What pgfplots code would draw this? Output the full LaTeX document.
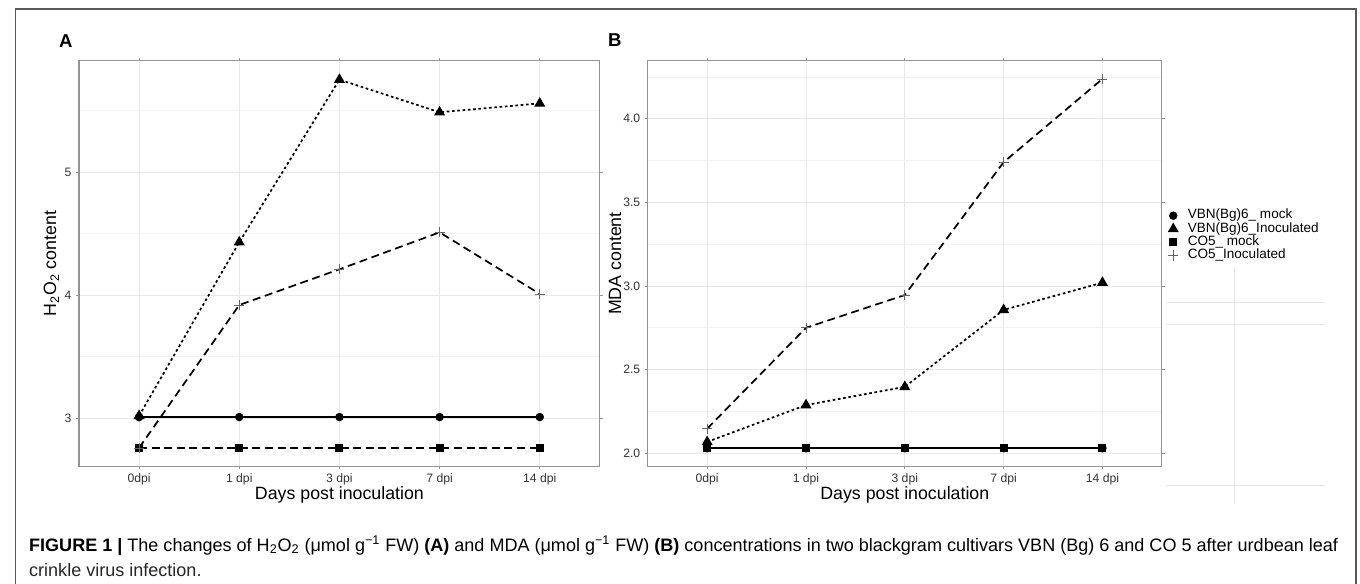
\documentclass[border=0pt]{standalone}
\usepackage{fontspec}
\setmainfont{Liberation Sans}
\usepackage{pgfplots}
\pgfplotsset{compat=1.18}

\definecolor{gridmaj}{gray}{0.91}
\definecolor{gridmin}{gray}{0.95}
\definecolor{panelborder}{gray}{0.58}
\definecolor{outerframe}{gray}{0.35}

\pgfplotstableread{
x vbnmock vbninoc cofmock cofinoc
0 3.01 3.02  2.76 2.76
1 3.01 4.43  2.76 3.92
2 3.01 5.75  2.76 4.21
3 3.01 5.485 2.76 4.51
4 3.01 5.557 2.76 4.01
}\tableA

\pgfplotstableread{
x vbnmock vbninoc cofmock cofinoc
0 2.03 2.068 2.03 2.147
1 2.03 2.288 2.03 2.75
2 2.03 2.397 2.03 2.946
3 2.03 2.857 2.03 3.74
4 2.03 3.02  2.03 4.238
}\tableB

\pgfplotsset{
  panel/.style={
    scale only axis, height=306pt, anchor=south west,
    xmin=-0.6, xmax=4.6,
    xtick={0,1,2,3,4}, xticklabels={0dpi,1 dpi,3 dpi,7 dpi,14 dpi},
    axis line style={panelborder, line width=0.8pt},
    tick align=outside, major tick length=2.2pt, minor tick length=0pt,
    tick style={panelborder, line width=0.6pt},
    every tick label/.append style={font=\fontsize{9.2}{10}\selectfont, text=black!80},
    /pgf/number format/assume math mode=true,
    xmajorgrids, ymajorgrids, yminorgrids,
    major grid style={gridmaj, line width=0.7pt},
    minor grid style={gridmin, line width=0.45pt},
    label style={font=\fontsize{13.4}{15}\selectfont},
    xlabel={Days post inoculation},
    xlabel style={at={(axis description cs:0.5,-0.071)}, anchor=center},
  },
  s1/.style={black, line width=1.3pt, solid, mark=*, mark size=2.5pt},
  s2/.style={black, line width=1.3pt, dash pattern=on 2pt off 2pt, mark=triangle*, mark size=3.5pt, mark options={solid}},
  s3/.style={black, line width=1.3pt, dash pattern=on 6pt off 3.5pt, mark=square*, mark size=2.4pt, mark options={solid}},
  s4/.style={black, line width=1.3pt, dash pattern=on 6pt off 3.5pt, mark=+, mark size=3.8pt, mark options={solid, draw=black!60, line width=0.55pt}},
}

\newsavebox\capA
\newcommand\capfont{\fontsize{10.5}{12}\selectfont}

\begin{document}
\sbox\capA{\capfont\textbf{FIGURE 1 |} The changes of H\textsubscript{2}O\textsubscript{2} (μmol g\textsuperscript{−1} FW) \textbf{(A)} and MDA (μmol g\textsuperscript{−1} FW) \textbf{(B)} concentrations in two blackgram cultivars VBN (Bg) 6 and CO 5 after urdbean leaf}
\pgfmathsetmacro\capscale{987/\the\wd\capA}
\begin{tikzpicture}
\useasboundingbox (0,0) rectangle (1020pt,440.25pt);
\draw[outerframe, line width=1.1pt] (6pt,0) -- (6pt,433.5pt) -- (1017pt,433.5pt) -- (1017pt,0);

% Panel A
\begin{axis}[panel, at={(54pt,88.5pt)}, width=392.8pt,
  ymin=2.609, ymax=5.904,
  ytick={3,4,5}, yticklabels={3,4,5},
  minor ytick={3.5,4.5,5.5},
  ylabel={H\textsubscript{2}O\textsubscript{2} content},
  ylabel style={at={(axis description cs:-0.053,0.5)}, anchor=center},
]
\addplot[s1] table[x=x, y=vbnmock] {\tableA};
\addplot[s2] table[x=x, y=vbninoc] {\tableA};
\addplot[s3] table[x=x, y=cofmock] {\tableA};
\addplot[s4] table[x=x, y=cofinoc] {\tableA};
\end{axis}

% Panel B
\begin{axis}[panel, at={(483pt,88.5pt)}, width=387.5pt,
  ymin=1.921, ymax=4.347,
  ytick={2,2.5,3,3.5,4}, yticklabels={2.0,2.5,3.0,3.5,4.0},
  minor ytick={2.25,2.75,3.25,3.75,4.25},
  ylabel={MDA content},
  ylabel style={at={(axis description cs:-0.064,0.5)}, anchor=center},
  legend style={at={(axis description cs:1.0064,0.635)}, anchor=north west,
    draw=none, fill=none, inner sep=0pt, row sep=0pt, column sep=5pt,
    font=\fontsize{10.2}{10}\selectfont,
    nodes={text height=7.5pt, text depth=2.5pt, inner sep=0pt}},
  legend cell align=left,
  legend image code/.code={\path[draw=none, fill=none] (-6pt,-3pt) rectangle (6pt,3pt); \draw[#1] plot coordinates {(0pt,0pt)};},
]
\addplot[s1] table[x=x, y=vbnmock] {\tableB};
\addplot[s2] table[x=x, y=vbninoc] {\tableB};
\addplot[s3] table[x=x, y=cofmock] {\tableB};
\addplot[s4] table[x=x, y=cofinoc] {\tableB};
\legend{VBN(Bg)6\_ mock, VBN(Bg)6\_Inoculated, CO5\_ mock, CO5\_Inoculated}
\end{axis}

% faint stray grid lines beside the legend
\draw[gridmaj, line width=0.7pt] (925.5pt,237.75pt) -- (925.5pt,60pt);
\draw[gridmaj, line width=0.7pt] (873.75pt,212.25pt) -- (993.75pt,212.25pt);
\draw[gridmaj, line width=0.7pt] (873.75pt,195.75pt) -- (993.75pt,195.75pt);
\draw[gridmaj, line width=0.7pt] (873.75pt,74.25pt) -- (993.75pt,74.25pt);

% panel letters
\node[font=\fontsize{14}{15}\selectfont\bfseries] at (44pt,409.5pt) {A};
\node[font=\fontsize{14}{15}\selectfont\bfseries] at (458pt,410.25pt) {B};

% caption
\node[anchor=base west, inner sep=0pt, text=black!85] at (16.25pt,24.75pt) {\scalebox{\capscale}{\usebox\capA}};
\node[anchor=base west, inner sep=0pt, text=black!85] at (16.25pt,5.5pt) {\scalebox{\capscale}{\capfont crinkle virus infection.}};
\end{tikzpicture}
\end{document}
